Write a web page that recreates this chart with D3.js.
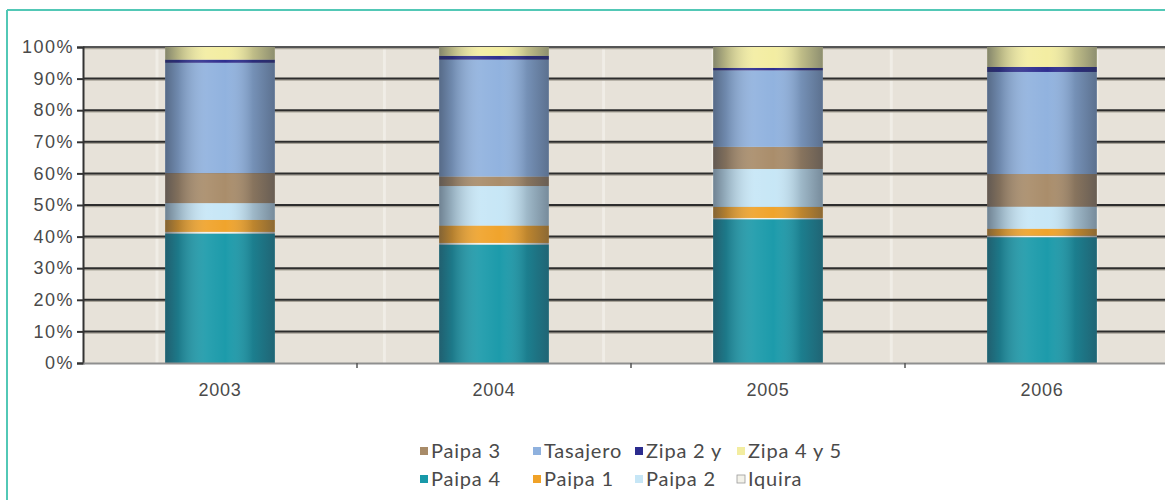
<!DOCTYPE html>
<html>
<head>
<meta charset="utf-8">
<script src="https://cdn.jsdelivr.net/npm/d3@7"></script>
<style>
  body { margin: 0; background: #fff; }
  svg { display: block; font-family: Lato, "Open Sans", sans-serif; }
</style>
</head>
<body>
<div id="chart"></div>
<script>
var years = ["2003", "2004", "2005", "2006"];
var seriesNames = ["Paipa 4", "Iquira", "Paipa 1", "Paipa 2", "Paipa 3", "Tasajero", "Zipa 2 y", "Zipa 4 y 5"];

// shares in percent
var paipa4   = [41.0, 37.5, 45.5, 39.8];
var iquira   = [0.5, 0.5, 0.4, 0.5];
var paipa1   = [3.8, 5.5, 3.5, 2.2];
var paipa2   = [5.3, 12.5, 12.0, 7.0];
var paipa3   = [9.5, 3.0, 7.0, 10.3];
var tasajero = [34.9, 37.0, 24.2, 32.3];
var zipa2    = [1.0, 1.2, 0.8, 1.6];
var zipa45   = [4.0, 2.8, 6.6, 6.3];

var yTicks = [0, 10, 20, 30, 40, 50, 60, 70, 80, 90, 100];

var legendRows = [
  ["Paipa 3", "Tasajero", "Zipa 2 y", "Zipa 4 y 5"],
  ["Paipa 4", "Paipa 1", "Paipa 2", "Iquira"]
];

var colors = {
  "Paipa 4": "#1899a9",
  "Iquira": "#f3f2ea",
  "Paipa 1": "#f0a228",
  "Paipa 2": "#c6e6f6",
  "Paipa 3": "#a88b68",
  "Tasajero": "#8fb1de",
  "Zipa 2 y": "#2b2b8e",
  "Zipa 4 y 5": "#f3eda0"
};

var cols = [paipa4, iquira, paipa1, paipa2, paipa3, tasajero, zipa2, zipa45];
var data = years.map(function(y, i) {
  var row = {year: y};
  seriesNames.forEach(function(s, j) { row[s] = cols[j][i]; });
  return row;
});

var W = 1165, H = 500;
var margin = {top: 47, left: 83, right: -14, bottom: 137};
var textColor = "#4a4a4a";

var svg = d3.select("#chart").append("svg")
  .attr("width", W)
  .attr("height", H);

var defs = svg.append("defs");

// cylinder shading laid over each bar
var shade = defs.append("linearGradient")
  .attr("id", "shade")
  .attr("x1", "0").attr("x2", "1").attr("y1", "0").attr("y2", "0");
[[0, "#283040", 0.55], [0.12, "#283040", 0.3], [0.38, "#ffffff", 0.08], [0.55, "#ffffff", 0.02],
 [0.8, "#283040", 0.25], [1, "#283040", 0.5]].forEach(function(s) {
  shade.append("stop").attr("offset", s[0]).attr("stop-color", s[1]).attr("stop-opacity", s[2]);
});

// frame
svg.append("line")
  .attr("x1", 7).attr("x2", W).attr("y1", 10).attr("y2", 10)
  .attr("stroke", "#52c8b6").attr("stroke-width", 2);
svg.append("line")
  .attr("x1", 7).attr("x2", 7).attr("y1", 10).attr("y2", H)
  .attr("stroke", "#52c8b6").attr("stroke-width", 2);

var x = d3.scaleBand()
  .domain(years)
  .range([margin.left, W - margin.right])
  .paddingInner(0.6)
  .paddingOuter(0.3);

var y = d3.scaleLinear()
  .domain([0, 100])
  .range([H - margin.bottom, margin.top]);

var g = svg.append("g");

// plot background
g.append("rect")
  .attr("x", margin.left).attr("y", margin.top)
  .attr("width", W - margin.right - margin.left)
  .attr("height", y(0) - y(100))
  .attr("fill", "#e7e2d9");

// a few pale stripes of the paper texture
var step = x.step();
[0.27, 0.33, 1.1, 1.9, 2.3, 2.95, 3.7].forEach(function(f) {
  g.append("line")
    .attr("x1", margin.left + f * step).attr("x2", margin.left + f * step)
    .attr("y1", margin.top).attr("y2", y(0))
    .attr("stroke", "#f3f0ea").attr("stroke-width", 3).attr("opacity", 0.8);
});

// gridlines
yTicks.slice(1).forEach(function(t) {
  g.append("line")
    .attr("x1", margin.left).attr("x2", W)
    .attr("y1", y(t) + 1.5).attr("y2", y(t) + 1.5)
    .attr("stroke", "#a8a398").attr("stroke-width", 1.5);
  g.append("line")
    .attr("x1", margin.left).attr("x2", W)
    .attr("y1", y(t)).attr("y2", y(t))
    .attr("stroke", t == 100 ? "#555" : "#2d2d2d").attr("stroke-width", 2);
});

var stack = d3.stack().keys(seriesNames);
var stacked = stack(data);

var layers = g.selectAll(".layer")
  .data(stacked)
  .join("g")
  .attr("class", "layer")
  .attr("fill", function(d) { return colors[d.key]; });

layers.selectAll("rect")
  .data(function(d) { return d; })
  .join("rect")
  .attr("x", function(d) { return x(d.data.year); })
  .attr("y", function(d) { return y(d[1]); })
  .attr("width", x.bandwidth())
  .attr("height", function(d) { return y(d[0]) - y(d[1]); });

// shading over each bar
g.selectAll(".shade")
  .data(data)
  .join("rect")
  .attr("class", "shade")
  .attr("x", function(d) { return x(d.year); })
  .attr("y", y(100))
  .attr("width", x.bandwidth())
  .attr("height", y(0) - y(100))
  .attr("fill", "url(#shade)");

// y axis
var yAxis = d3.axisLeft(y)
  .tickValues(yTicks)
  .tickFormat(function(d) { return d + "%"; })
  .tickSize(6)
  .tickPadding(3);

var ya = svg.append("g")
  .attr("transform", "translate(" + margin.left + ",0)")
  .call(yAxis);
ya.select(".domain").attr("stroke", "#333").attr("stroke-width", 2);
ya.selectAll(".tick line").attr("stroke", "#333").attr("stroke-width", 2);
ya.selectAll(".tick text")
  .attr("fill", textColor)
  .style("font-size", "18px")
  .style("letter-spacing", "1.5px");

// x axis
var xa = svg.append("g")
  .attr("transform", "translate(0," + y(0) + ")")
  .call(d3.axisBottom(x).tickSize(0).tickPadding(20));
xa.select(".domain").attr("stroke", "#8f8f8f").attr("stroke-width", 2);
xa.selectAll(".tick text")
  .attr("fill", textColor)
  .style("font-size", "18px")
  .style("letter-spacing", "0.8px");

// small ticks between categories
d3.range(1, years.length).forEach(function(i) {
  xa.append("line")
    .attr("x1", margin.left + i * step).attr("x2", margin.left + i * step)
    .attr("y1", 0).attr("y2", 5)
    .attr("stroke", "#555").attr("stroke-width", 1.5);
});

// legend
var legendX = [420, 533, 635, 737];
var legendY = [451, 479];
legendRows.forEach(function(row, r) {
  row.forEach(function(name, c) {
    var item = svg.append("g")
      .attr("transform", "translate(" + legendX[c] + "," + legendY[r] + ")");
    item.append("rect")
      .attr("x", 0).attr("y", -4)
      .attr("width", 8).attr("height", 8)
      .attr("fill", colors[name])
      .attr("stroke", name == "Iquira" ? "#9a9a9a" : "none")
      .attr("stroke-width", 0.8);
    item.append("text")
      .attr("x", 11)
      .attr("y", 7)
      .attr("fill", textColor)
      .style("font-size", "20px")
      .style("letter-spacing", "0.8px")
      .text(name);
  });
});
</script>
</body>
</html>
